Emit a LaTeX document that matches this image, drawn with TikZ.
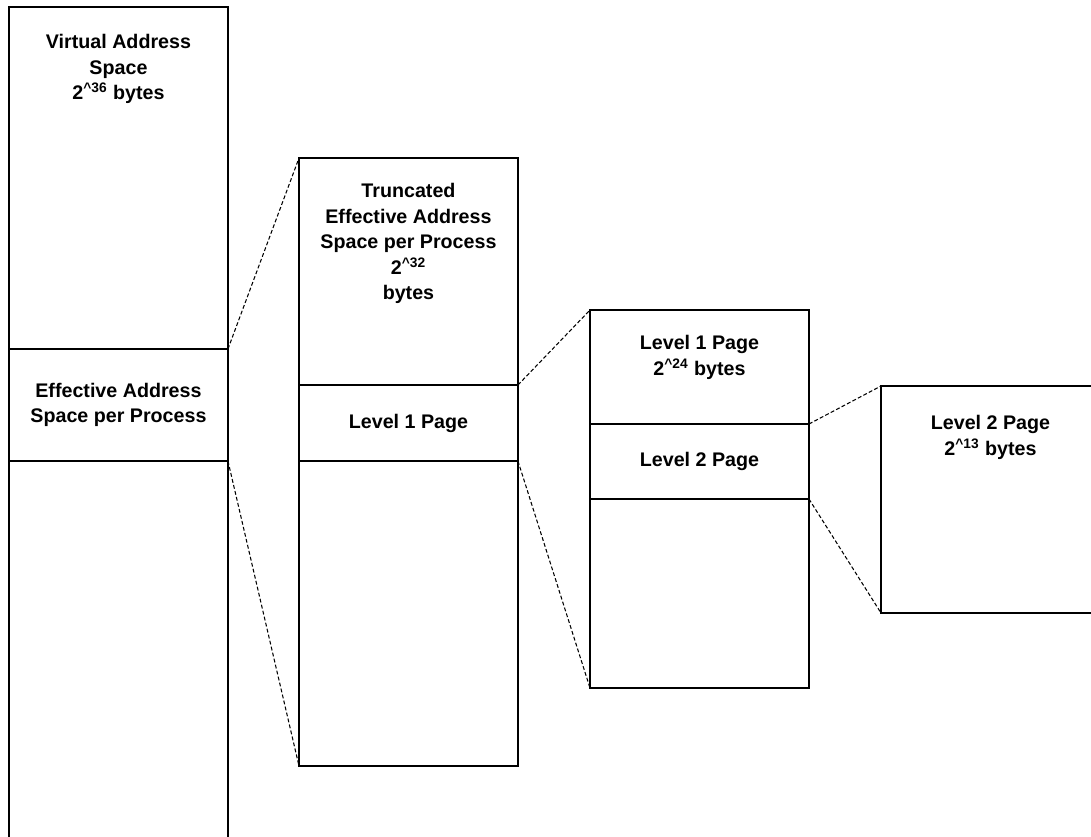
\documentclass[tikz,border=0pt]{standalone}
\usepackage{fontspec}
\setmainfont{Liberation Sans}
\usetikzlibrary{positioning}

\tikzset{
  seg/.style={draw, line width=0.8pt, minimum width=4.38cm, minimum height=#1*0.02cm,
    inner sep=0pt, outer sep=0pt, font=\bfseries\fontsize{11.2}{14.5}\selectfont, align=center},
  lbl/.style={anchor=north, inner sep=0pt, font=\bfseries\fontsize{11.2}{14.5}\selectfont, align=center},
  zoomline/.style={line width=0.6pt, dash pattern=on 2.2pt off 1.3pt}
}
\newcommand{\pw}[1]{2\textsuperscript{\textasciicircum#1}}

\begin{document}
\begin{tikzpicture}[x=0.02cm,y=-0.02cm]
\useasboundingbox (0,0) rectangle (1091,836); % fix the margins
\clip (0,0) rectangle (1091,836);
% virtual address space
\node[seg=342, anchor=north west] (va) at (9,7) {};
\node[seg=112, below=0pt of va] (ea) {Effective Address\\Space per Process};
\node[seg=389, below=0pt of ea] (vb) {};
\node[lbl] (vat) at ([yshift=-0.54cm]va.north) {Virtual Address\\Space\\\pw{36} bytes};
% truncated effective address space
\node[seg=227, anchor=north west] (ta) at (299,158) {};
\node[seg=76, below=0pt of ta] (tl1) {Level 1 Page};
\node[seg=305, below=0pt of tl1] (tb) {};
\node[lbl] (tat) at ([yshift=-0.5cm]ta.north) {Truncated\\Effective Address\\Space per Process\\\pw{32}\\bytes};
% level 1 page
\node[seg=114, anchor=north west] (pa) at (590,310) {};
\node[seg=75, below=0pt of pa] (pl2) {Level 2 Page};
\node[seg=189, below=0pt of pl2] (pb) {};
\node[lbl] (pat) at ([yshift=-0.5cm]pa.north) {Level 1 Page\\\pw{24} bytes};
% level 2 page
\node[seg=227, anchor=north west] (qa) at (881,386) {};
\node[lbl] (qat) at ([yshift=-0.58cm]qa.north) {Level 2 Page\\\pw{13} bytes};
% zoom lines
\draw[zoomline] (va.south east) -- (ta.north west);
\draw[zoomline] (ea.south east) -- (tb.south west);
\draw[zoomline] (tl1.north east) -- (pa.north west);
\draw[zoomline] (tl1.south east) -- (pb.south west);
\draw[zoomline] (pl2.north east) -- (qa.north west);
\draw[zoomline] (pl2.south east) -- (qa.south west);
\end{tikzpicture}
\end{document}
